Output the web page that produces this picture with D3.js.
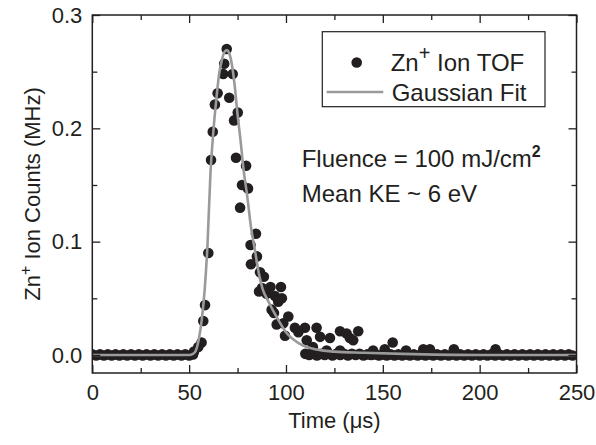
<!DOCTYPE html>
<html>
<head>
<meta charset="utf-8">
<script src="https://cdn.jsdelivr.net/npm/d3@7"></script>
<style>
  body { margin: 0; background: #fff; }
  text { font-family: "Liberation Sans", Arial, sans-serif; fill: #231f20; }
</style>
</head>
<body>
<svg id="chart" width="596" height="445"></svg>
<script>
/*********************
 * Data
 *********************/
// Zn+ TOF points above the baseline
const tofTime = [69.4, 68.1, 67.6, 72.5, 64.7, 70.7, 63.3, 75.1, 73.2, 62.2,
                 61.3, 74.2, 79.4, 77.3, 80.4, 76.3, 84.5, 81.7, 59.9, 85.0,
                 81.9, 86.6, 88.6, 86.1, 87.6, 58.2, 57.3, 56.4, 54.7, 52.5,
                 92.0, 97.4, 90.0, 94.3, 97.9, 96.0, 92.6, 93.8, 101.2, 95.2,
                 98.6, 104.6, 109.8, 115.8, 99.5, 106.4, 127.9, 137.3, 110.7, 117.6,
                 122.7, 133.0, 134.7, 113.9, 121.0, 127.9, 131.3, 155.1, 170.9, 174.3,
                 186.7, 208.2, 145.0, 151.0, 162.0];
const tofCounts = [0.270, 0.257, 0.248, 0.248, 0.231, 0.227, 0.221, 0.214, 0.207, 0.197,
                   0.172, 0.174, 0.167, 0.150, 0.147, 0.130, 0.107, 0.097, 0.090, 0.087,
                   0.080, 0.073, 0.069, 0.056, 0.059, 0.044, 0.030, 0.011, 0.007, 0.003,
                   0.060, 0.060, 0.054, 0.052, 0.050, 0.047, 0.040, 0.037, 0.034, 0.027,
                   0.028, 0.024, 0.024, 0.024, 0.017, 0.020, 0.021, 0.021, 0.013, 0.016,
                   0.015, 0.015, 0.013, 0.007, 0.004, 0.004, 0.019, 0.011, 0.005, 0.005,
                   0.005, 0.005, 0.004, 0.005, 0.004];

// baseline points (the dense band along zero)
const baseTime = [0, 2, 4, 6, 8, 10, 12, 14, 16, 18, 20, 22, 24, 26, 28, 30, 32, 34,
                  36, 38, 40, 42, 44, 46, 48, 50, 52,
                  110, 112, 114, 116, 118, 120, 122, 124, 126, 128, 130, 132, 134, 136,
                  138, 140, 142, 144, 146, 148, 150, 152, 154, 156, 158, 160, 162, 164,
                  166, 168, 170, 172, 174, 176, 178, 180, 182, 184, 186, 188, 190, 192,
                  194, 196, 198, 200, 202, 204, 206, 208, 210, 212, 214, 216, 218, 220,
                  222, 224, 226, 228, 230, 232, 234, 236, 238, 240, 242, 244, 246, 248, 250];
const baseCounts = [0.0005, -0.0005, 0.0005, -0.0005, 0.0005, -0.0005, 0.0005, -0.0005, 0.0005,
                    -0.0005, 0.0005, -0.0005, 0.0005, -0.0005, 0.0005, -0.0005, 0.0005, -0.0005,
                    0.0005, -0.0005, 0.0005, -0.0005, 0.0005, -0.0005, 0.0005, -0.0005, 0.0005,
                    0.001, 0.000, 0.001, -0.0005, 0.001, 0.000, 0.001, -0.0005, 0.001, 0.000,
                    0.001, -0.0005, 0.001, 0.000, 0.001, -0.0005, 0.0005, 0.000, 0.0005, -0.0005,
                    0.0005, -0.0005, 0.0005, -0.0005, 0.0005, -0.0005, 0.0005, -0.0005, 0.0005, -0.0005,
                    0.0005, -0.0005, 0.0005, -0.0005, 0.0005, -0.0005, 0.0005, -0.0005, 0.0005, -0.0005,
                    0.0005, -0.0005, 0.0005, -0.0005, 0.0005, -0.0005, 0.0005, -0.0005, 0.0005, -0.0005,
                    0.0005, -0.0005, 0.0005, -0.0005, 0.0005, -0.0005, 0.0005, -0.0005, 0.0005, -0.0005,
                    0.0005, -0.0005, 0.0005, -0.0005, 0.0005, -0.0005, 0.0005, -0.0005, 0.0005, -0.0005];

// Gaussian fit curve
const fitTime = [0, 50, 52, 53.5, 55, 56.5, 58, 59.5, 61, 62.5, 64, 65.5, 67, 68.5, 69.5,
                 70.5, 72, 73.5, 75, 76.5, 78, 80, 82, 84, 86, 88, 91, 95, 100, 107,
                 115, 125, 140, 160, 200, 250];
const fitCounts = [0, 0, 0.001, 0.004, 0.014, 0.031, 0.057, 0.098, 0.160, 0.197, 0.225, 0.248,
                   0.261, 0.268, 0.269, 0.267, 0.257, 0.238, 0.212, 0.190, 0.165, 0.140,
                   0.112, 0.092, 0.072, 0.058, 0.047, 0.034, 0.020, 0.010, 0.005, 0.003,
                   0.002, 0.001, 0.000, 0.000];

const xMajor = [0, 50, 100, 150, 200, 250];
const xMinor = [25, 75, 125, 175, 225];
const yMajor = [0.0, 0.1, 0.2, 0.3];
const yMinor = [0.05, 0.15, 0.25];

/*********************
 * Scales
 *********************/
const plotLeft = 92.3, plotRight = 576.5, plotTop = 15, plotBottom = 373;
const x = d3.scaleLinear().domain([0, 250]).range([plotLeft, plotRight]);
const y = d3.scaleLinear().domain([-0.0159, 0.3]).range([plotBottom, plotTop]);

const ink = '#231f20';
const svg = d3.select('#chart');

svg.append('defs').append('clipPath').attr('id', 'plot')
  .append('rect')
  .attr('x', plotLeft).attr('y', plotTop)
  .attr('width', plotRight - plotLeft).attr('height', plotBottom - plotTop);

/*********************
 * Points and fit
 *********************/
const marks = svg.append('g').attr('clip-path', 'url(#plot)');

const points = baseTime.map((t, i) => [t, baseCounts[i]])
  .concat(tofTime.map((t, i) => [t, tofCounts[i]]));

marks.selectAll('circle')
  .data(points)
  .enter()
  .append('circle')
  .attr('cx', d => x(d[0]))
  .attr('cy', d => y(d[1]))
  .attr('r', 5.3)
  .attr('fill', ink);

const line = d3.line()
  .x(d => x(d[0]))
  .y(d => y(d[1]))
  .curve(d3.curveMonotoneX);

marks.append('path')
  .datum(fitTime.map((t, i) => [t, fitCounts[i]]))
  .attr('d', line)
  .attr('fill', 'none')
  .attr('stroke', '#9a9a9a')
  .attr('stroke-width', 2.6);

/*********************
 * Axes (ticks on all four sides, pointing in)
 *********************/
function styleAxis(g) {
  g.select('.domain').remove();
  g.selectAll('line').attr('stroke', ink).attr('stroke-width', 1.3);
  g.selectAll('text').style('font-size', '22px').attr('fill', ink);
}

svg.append('g').attr('transform', `translate(0,${plotBottom})`)
  .call(d3.axisBottom(x).tickValues(xMajor).tickSize(-8).tickPadding(11))
  .call(styleAxis);
svg.append('g').attr('transform', `translate(0,${plotBottom})`)
  .call(d3.axisBottom(x).tickValues(xMinor).tickSize(-5).tickFormat(''))
  .call(styleAxis);
svg.append('g').attr('transform', `translate(0,${plotTop})`)
  .call(d3.axisTop(x).tickValues(xMajor).tickSize(-8).tickFormat(''))
  .call(styleAxis);
svg.append('g').attr('transform', `translate(0,${plotTop})`)
  .call(d3.axisTop(x).tickValues(xMinor).tickSize(-5).tickFormat(''))
  .call(styleAxis);

svg.append('g').attr('transform', `translate(${plotLeft},0)`)
  .call(d3.axisLeft(y).tickValues(yMajor).tickSize(-8).tickPadding(10).tickFormat(d3.format('.1f')))
  .call(styleAxis);
svg.append('g').attr('transform', `translate(${plotLeft},0)`)
  .call(d3.axisLeft(y).tickValues(yMinor).tickSize(-5).tickFormat(''))
  .call(styleAxis);
svg.append('g').attr('transform', `translate(${plotRight},0)`)
  .call(d3.axisRight(y).tickValues(yMajor).tickSize(-8).tickFormat(''))
  .call(styleAxis);
svg.append('g').attr('transform', `translate(${plotRight},0)`)
  .call(d3.axisRight(y).tickValues(yMinor).tickSize(-5).tickFormat(''))
  .call(styleAxis);

svg.append('rect')
  .attr('x', plotLeft).attr('y', plotTop)
  .attr('width', plotRight - plotLeft).attr('height', plotBottom - plotTop)
  .attr('fill', 'none')
  .attr('stroke', ink)
  .attr('stroke-width', 1.5);

/*********************
 * Axis titles
 *********************/
svg.append('text')
  .attr('x', (plotLeft + plotRight) / 2)
  .attr('y', 428)
  .attr('text-anchor', 'middle')
  .style('font-size', '22px')
  .text('Time (μs)');

const yTitle = svg.append('text')
  .attr('transform', `translate(40,${(plotTop + plotBottom) / 2}) rotate(-90)`)
  .attr('text-anchor', 'middle')
  .style('font-size', '22px');
yTitle.append('tspan').text('Zn');
yTitle.append('tspan').attr('dy', -9).style('font-size', '16px').text('+');
yTitle.append('tspan').attr('dy', 9).text(' Ion Counts (MHz)');

/*********************
 * Legend
 *********************/
const legend = svg.append('g');
legend.append('rect')
  .attr('x', 322.3).attr('y', 31.7)
  .attr('width', 222.7).attr('height', 75)
  .attr('fill', '#fff')
  .attr('stroke', ink)
  .attr('stroke-width', 1.2);
legend.append('circle')
  .attr('cx', 356.7).attr('cy', 62.5).attr('r', 5.3)
  .attr('fill', ink);
const l1 = legend.append('text')
  .attr('x', 390.7).attr('y', 71)
  .style('font-size', '24px');
l1.append('tspan').text('Zn');
l1.append('tspan').attr('dy', -11).style('font-size', '20px').text('+');
l1.append('tspan').attr('dy', 11).text(' Ion TOF');

legend.append('line')
  .attr('x1', 326.7).attr('x2', 383.3)
  .attr('y1', 92).attr('y2', 92)
  .attr('stroke', '#9a9a9a')
  .attr('stroke-width', 2.6);
legend.append('text')
  .attr('x', 391.7).attr('y', 101)
  .style('font-size', '24px')
  .text('Gaussian Fit');

/*********************
 * Annotation
 *********************/
const note1 = svg.append('text')
  .attr('x', 301.7).attr('y', 167)
  .style('font-size', '24px');
note1.append('tspan').text('Fluence = 100 mJ/cm');
note1.append('tspan').attr('dy', -10).style('font-size', '16px').style('font-weight', 'bold').text('2');

svg.append('text')
  .attr('x', 301.7).attr('y', 202)
  .style('font-size', '24px')
  .text('Mean KE ~ 6 eV');
</script>
</body>
</html>
